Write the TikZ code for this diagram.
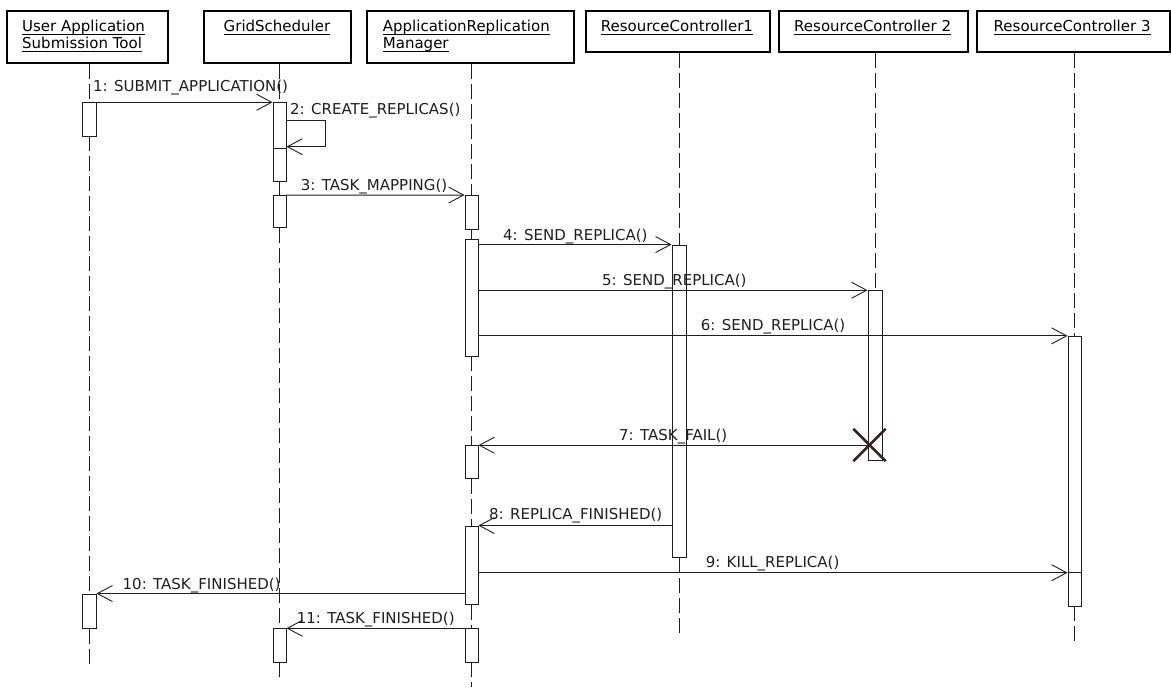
\documentclass[tikz,border=0pt]{standalone}
\usepackage{fontspec}
\setmainfont{DejaVu Sans}
\usetikzlibrary{arrows.meta,fit,calc}
\definecolor{xcol}{RGB}{55,35,35}
\definecolor{ink}{RGB}{30,30,30}
\begin{document}
\begin{tikzpicture}[x=1pt,y=-1pt,
  font=\fontsize{15}{17}\selectfont,
  hdr/.style={draw=black, line width=2pt, inner sep=0pt},
  act/.style={draw=ink, fill=white, line width=0.9pt, inner sep=0pt},
  life/.style={draw=ink, line width=0.9pt, dash pattern=on 15pt off 5pt},
  msg/.style={draw=ink, line width=0.9pt, -{Straight Barb[length=15pt,width=16pt]}},
  plain/.style={draw=ink, line width=0.9pt},
  lbl/.style={anchor=base west, inner sep=0pt, text=ink},
  ttl/.style={anchor=base west, inner sep=0pt, text=black},
  uline/.style={draw=black, line width=0.9pt},
  xmark/.style={draw=xcol, line width=2.6pt}]
\useasboundingbox (0,0) rectangle (1171,688);

% header boxes
\node[hdr, fit={(6.5,11)(168,63)}] (h1) {};
\node[hdr, fit={(203.5,11)(351,63)}] (h2) {};
\node[hdr, fit={(367,11)(574,63)}] (h3) {};
\node[hdr, fit={(585.5,11)(769.5,52)}] (h4) {};
\node[hdr, fit={(779,11)(968,52)}] (h5) {};
\node[hdr, fit={(977,11)(1170,52)}] (h6) {};

% header texts
\node[ttl] (t1a) at (22,31) {User Application};
\node[ttl] (t1b) at (22,48.5) {Submission Tool};
\node[ttl, anchor=base] (t2) at (277,31.7) {GridScheduler};
\node[ttl] (t3a) at (382.7,31) {ApplicationReplication};
\node[ttl] (t3b) at (382.7,48.5) {Manager};
\node[ttl] (t4) at (600.7,31.7) {ResourceController1};
\node[ttl] (t5) at (794,31.7) {ResourceController 2};
\node[ttl] (t6) at (993.5,31.7) {ResourceController 3};
\foreach \t in {t1a,t1b,t2,t3a,t3b,t4,t5,t6}
  \draw[uline] ([yshift=-3pt]\t.base west) -- ([yshift=-3pt]\t.base east);

% activations
\node[act, fit={(82.5,102.7)(96,136)}] (u1) {};
\node[act, fit={(82.5,594)(96,628.7)}] (u2) {};
\node[act, fit={(273,102.7)(286,181)}] (g1) {};
\node[act, fit={(273,148)(286,181)}] (g1n) {};
\node[act, fit={(273,195.5)(286,227.7)}] (g2) {};
\node[act, fit={(273,628.7)(286,662)}] (g3) {};
\node[act, fit={(465,195.5)(478,229)}] (a1) {};
\node[act, fit={(465,239)(478,356)}] (a2) {};
\node[act, fit={(465,445.7)(478,478.3)}] (a3) {};
\node[act, fit={(465,526)(478,604.3)}] (a4) {};
\node[act, fit={(465,628.7)(478,662)}] (a5) {};
\node[act, fit={(672,245)(686,557.7)}] (r1) {};
\node[act, fit={(868,290.7)(882,460)}] (r2) {};
\node[act, fit={(1068,336.3)(1081,606)}] (r3) {};

% lifelines
\draw[life] (u1 |- h1.south) -- (u1.north);
\draw[life] (u1.south) -- (u2.north);
\draw[life] (u2.south) -- ++(0,39.3);
\draw[life] (g1 |- h2.south) -- (g1.north);
\draw[life] (g1.south) -- (g2.north);
\draw[life] (g2.south) -- (g3.north);
\draw[life] (g3.south) -- ++(0,19.7);
\draw[life] (a1 |- h3.south) -- (a1.north);
\draw[life] (a1.south) -- (a2.north);
\draw[life] (a2.south) -- (a3.north);
\draw[life] (a3.south) -- (a4.north);
\draw[life] (a4.south) -- (a5.north);
\draw[life] (a5.south) -- ++(0,24.7);
\draw[life] (r1 |- h4.south) -- (r1.north);
\draw[life] (r1.south) -- ++(0,78.3);
\draw[life] (r2 |- h5.south) -- (r2.north);
\draw[life] (r3 |- h6.south) -- (r3.north);
\draw[life] (r3.south) -- ++(0,39);

% messages
\draw[msg] (u1.north east) -- (g1.north west);
\node[lbl] (l1) at (93,91) {1: SUBMIT\_APPLICATION()};

\coordinate (s1) at (325,120);
\coordinate (s2) at (325,146.7);
\draw[msg] (g1.east |- s1) -- (s1) -- (s2) -- (g1.east |- s2);
\node[lbl] (l2) at (290,114) {2: CREATE\_REPLICAS()};

\draw[msg] (g2.north east) -- (a1.north west);
\node[lbl] (l3) at (300.7,190.7) {3: TASK\_MAPPING()};

\draw[msg] (a2.east |- r1.north) -- (r1.north west);
\node[lbl] (l4) at (503,240) {4: SEND\_REPLICA()};

\draw[msg] (a2.east |- r2.north) -- (r2.north west);
\node[lbl] (l5) at (602,285.7) {5: SEND\_REPLICA()};

\draw[msg] (a2.east |- r3.north) -- (r3.north west);
\node[lbl] (l6) at (700.7,330.7) {6: SEND\_REPLICA()};

\draw[msg] (r2.west |- a3.north) -- (a3.north east);
\node[lbl] (l7) at (619,440) {7: TASK\_FAIL()};

\draw[msg] (r1.west |- a4.north) -- (a4.north east);
\node[lbl] (l8) at (489,519.3) {8: REPLICA\_FINISHED()};

\coordinate (y9) at (0,572.7);
\draw[msg] (a4.east |- y9) -- (r3.west |- y9);
\draw[plain] (r3.west |- y9) -- (r3.east |- y9);
\node[lbl] (l9) at (705.6,567.3) {9: KILL\_REPLICA()};

\draw[msg] (a4.west |- u2.north) -- (u2.north east);
\node[lbl] (l10) at (122.5,589.3) {10: TASK\_FINISHED()};

\draw[msg] (a5.north west) -- (g3.north east);
\node[lbl] (l11) at (296.6,623.3) {11: TASK\_FINISHED()};

% destruction mark
\node[minimum size=32pt, inner sep=0pt] (x5) at (869.5,445) {};
\draw[xmark] (x5.north west) -- (x5.south east) (x5.north east) -- (x5.south west);
\end{tikzpicture}
\end{document}
